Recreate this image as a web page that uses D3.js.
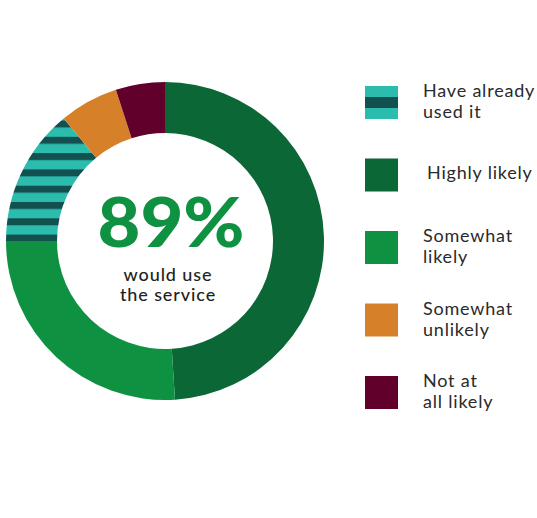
<!DOCTYPE html>
<html><head><meta charset="utf-8">
<script src="https://cdn.jsdelivr.net/npm/d3@7"></script>
<style>body{margin:0;background:#fff}</style>
</head><body>
<svg id="c" width="537" height="518"></svg>
<script>
const categories = ["Highly likely","Somewhat likely","Have already used it","Somewhat unlikely","Not at all likely"];
const values = [49, 26, 14, 6, 5];
const colors = ["#0c6737","#0f9142","url(#stripes)","#d6802a","#62002c"];
const legendOrder = [2,0,1,3,4];
const legendLines = [["Have already","used it"],["Highly likely"],["Somewhat","likely"],["Somewhat","unlikely"],["Not at","all likely"]];
const centerBig = "89%";
const centerSmall = ["would use","the service"];

const svg = d3.select("#c");
const defs = svg.append("defs");
const pat = defs.append("pattern").attr("id","stripes").attr("patternUnits","userSpaceOnUse")
  .attr("width",20).attr("height",16.3).attr("y",124);
pat.append("rect").attr("width",20).attr("height",16.3).attr("fill","#2bbcae");
pat.append("rect").attr("width",20).attr("height",7).attr("fill","#135150");

const cx=165, cy=241, R=159, r=108;
const pie = d3.pie().sort(null).value(d=>d);
const arc = d3.arc().innerRadius(r).outerRadius(R);
const g = svg.append("g").attr("transform",`translate(${cx},${cy})`);
g.selectAll("path").data(pie(values)).join("path").attr("d",arc).attr("fill",(d,i)=>colors[i]);

g.append("text").attr("text-anchor","middle").attr("x",6).attr("y",6).attr("font-family","Lato").attr("font-weight",900)
  .attr("font-size",68).attr("fill","#0f9142").attr("textLength",147).attr("lengthAdjust","spacingAndGlyphs").text(centerBig);
centerSmall.forEach((t,i)=>g.append("text").attr("text-anchor","middle").attr("x",3).attr("y",40+i*20)
  .attr("font-family","Lato").attr("font-weight",500).attr("font-size",18).attr("letter-spacing",0.9)
  .attr("fill","#231f20").text(t));

const lg = svg.append("g");
const ly = d3.scaleLinear().domain([0,4]).range([86,376]);
legendOrder.forEach((ci,i)=>{
  const y = ly(i);
  if(ci===2){
    lg.append("rect").attr("x",365).attr("y",y).attr("width",33).attr("height",33).attr("fill","#2bbcae");
    lg.append("rect").attr("x",365).attr("y",y+11).attr("width",33).attr("height",11).attr("fill","#135150");
  } else {
    lg.append("rect").attr("x",365).attr("y",y).attr("width",33).attr("height",33).attr("fill",colors[ci]);
  }
  const lines = legendLines[i];
  const t = lg.append("text").attr("font-family","Lato").attr("font-size",18).attr("letter-spacing",0.8).attr("fill","#2a2a2a");
  if(lines.length===1){
    t.append("tspan").attr("x",427).attr("y",y+20).text(lines[0]);
  } else {
    lines.forEach((s,k)=>t.append("tspan").attr("x",423).attr("y",y+11+k*21).text(s));
  }
});
</script>
</body></html>
